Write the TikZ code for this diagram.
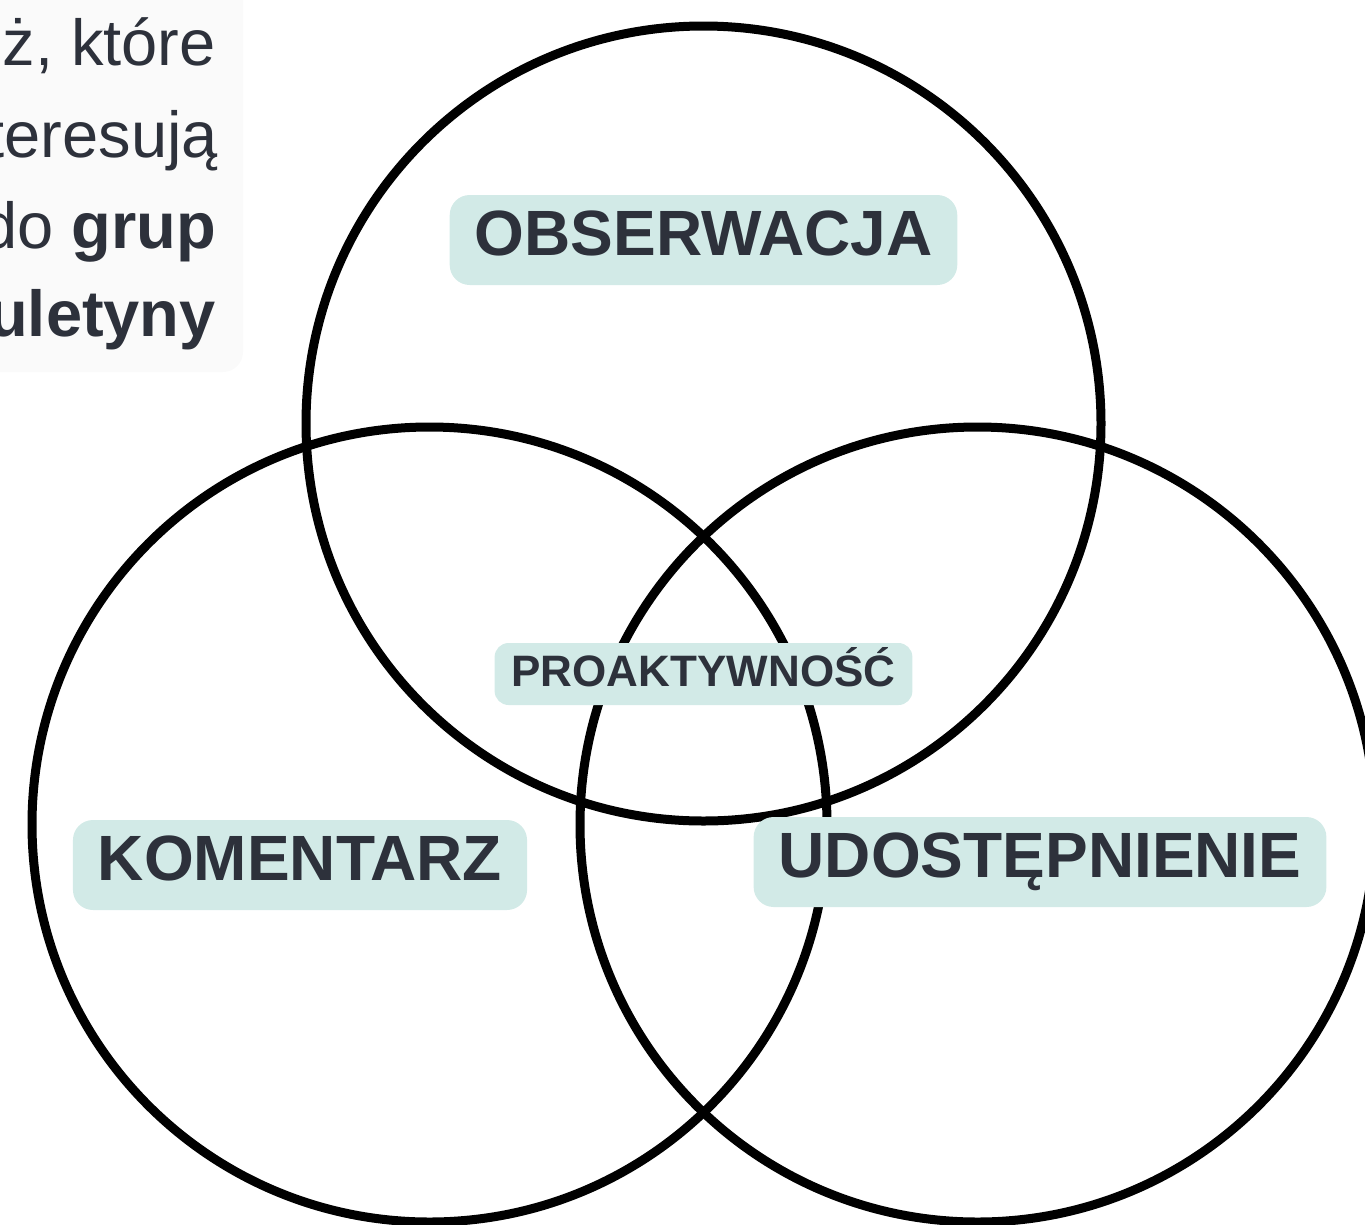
\documentclass[tikz,border=0pt]{standalone}
\usepackage{fontspec}
\setmainfont{Liberation Sans}
\definecolor{ink}{RGB}{45,49,59}
\definecolor{mint}{RGB}{210,234,231}
\tikzset{
  ring/.style={circle,draw=black,line width=9pt,minimum size=795pt,inner sep=0pt},
  tag/.style={fill=mint,rounded corners=20pt,inner xsep=25pt,inner ysep=0pt,text height=60pt,text depth=30pt,anchor=base,text=ink,font=\fontsize{64}{70}\selectfont\bfseries},
  smalltag/.style={tag,rounded corners=14pt,inner xsep=17pt,text height=43pt,text depth=19pt,font=\fontsize{44}{50}\selectfont\bfseries},
  intro/.style={anchor=base east,inner sep=0pt,text=ink,font=\fontsize{65}{78}\selectfont}
}
\begin{document}
\begin{tikzpicture}[x=1pt,y=-1pt]
  \useasboundingbox (0,0) rectangle (1365,1224);
  \clip (0,0) rectangle (1365,1224);
  \fill[black!2,rounded corners=20pt] (-30,-30) rectangle (243,372);
  \node[intro] (l1) at (216,65) {ż, które};
  \node[intro] (l2) at (218,157) {teresują};
  \node[intro] (l3) at (216,248) {do \textbf{grup}};
  \node[intro] (l4) at (216,336) {\textbf{uletyny}};
  \node[ring] (obs) at (703.5,423.5) {};
  \node[ring] (kom) at (429.5,824.5) {};
  \node[ring] (udo) at (977.5,824.5) {};
  \node[tag] (tobs) at (703.5,255) {OBSERWACJA};
  \node[smalltag] (tpro) at (703.5,686) {PROAKTYWNOŚĆ};
  \node[tag] (tkom) at (300,880) {KOMENTARZ};
  \node[tag] (tudo) at (1040,877) {UDOSTĘPNIENIE};
\end{tikzpicture}
\end{document}
